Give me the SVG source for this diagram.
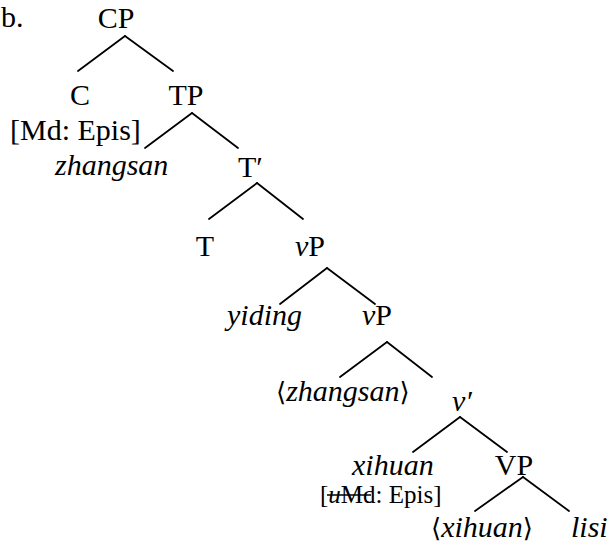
<svg xmlns="http://www.w3.org/2000/svg" width="610" height="550" viewBox="0 0 610 550">
<style>
text{font-family:"Liberation Serif","Times New Roman",Tinos,Times,"DejaVu Serif",serif;font-size:30px;fill:#000}
.m{text-anchor:middle}
.i{font-style:italic}
.s{font-size:25px}
.br{font-family:"DejaVu Serif","Liberation Serif",serif;font-style:normal;font-size:26px}
#edges line{stroke:#000;stroke-width:1.8;stroke-linecap:round}
</style>
<rect width="610" height="550" fill="#fff"/>
<g id="edges">
<line x1="125" y1="36" x2="78" y2="71"/><line x1="125" y1="36" x2="173" y2="71"/>
<line x1="192" y1="113" x2="145" y2="148"/><line x1="192" y1="113" x2="238" y2="148"/>
<line x1="257" y1="183" x2="209" y2="219"/><line x1="257" y1="183" x2="303" y2="219"/>
<line x1="327" y1="268" x2="280" y2="304"/><line x1="327" y1="268" x2="375" y2="304"/>
<line x1="387" y1="342" x2="340" y2="377"/><line x1="387" y1="342" x2="432" y2="377"/>
<line x1="460" y1="417" x2="413" y2="452"/><line x1="460" y1="417" x2="507" y2="452"/>
<line x1="523" y1="477" x2="475" y2="511"/><line x1="523" y1="477" x2="569" y2="511"/>
</g>
<g id="label"><text x="1" y="27">b.</text></g>
<g id="CP"><text class="m" x="116" y="28">CP</text></g>
<g id="C"><text class="m" x="80" y="105">C</text><text x="10" y="140">[Md: Epis]</text></g>
<g id="TP"><text class="m" x="186" y="105">TP</text></g>
<g id="zhangsan"><text class="i" x="55" y="175">zhangsan</text></g>
<g id="Tbar"><text x="238" y="177">T′</text></g>
<g id="T"><text class="m" x="205" y="256">T</text></g>
<g id="vP"><text x="295" y="256"><tspan class="i">v</tspan>P</text></g>
<g id="yiding"><text class="i" x="227" y="325">yiding</text></g>
<g id="vP2"><text x="362" y="325"><tspan class="i">v</tspan>P</text></g>
<g id="zhangsan-copy"><text x="276" y="401"><tspan class="br">⟨</tspan><tspan class="i">zhangsan</tspan><tspan class="br">⟩</tspan></text></g>
<g id="vbar"><text class="i" x="452" y="411">v′</text></g>
<g id="xihuan"><text class="i" x="352" y="475">xihuan</text>
<text class="s" x="320" y="503">[<tspan class="i">u</tspan>Md: Epis]</text>
<line x1="327" y1="495" x2="371" y2="495" stroke="#000" stroke-width="1.4"/></g>
<g id="VP"><text class="m" x="514" y="475">VP</text></g>
<g id="xihuan-copy"><text x="431" y="537"><tspan class="br">⟨</tspan><tspan class="i">xihuan</tspan><tspan class="br">⟩</tspan></text></g>
<g id="lisi"><text class="i" x="571" y="537">lisi</text></g>
</svg>
